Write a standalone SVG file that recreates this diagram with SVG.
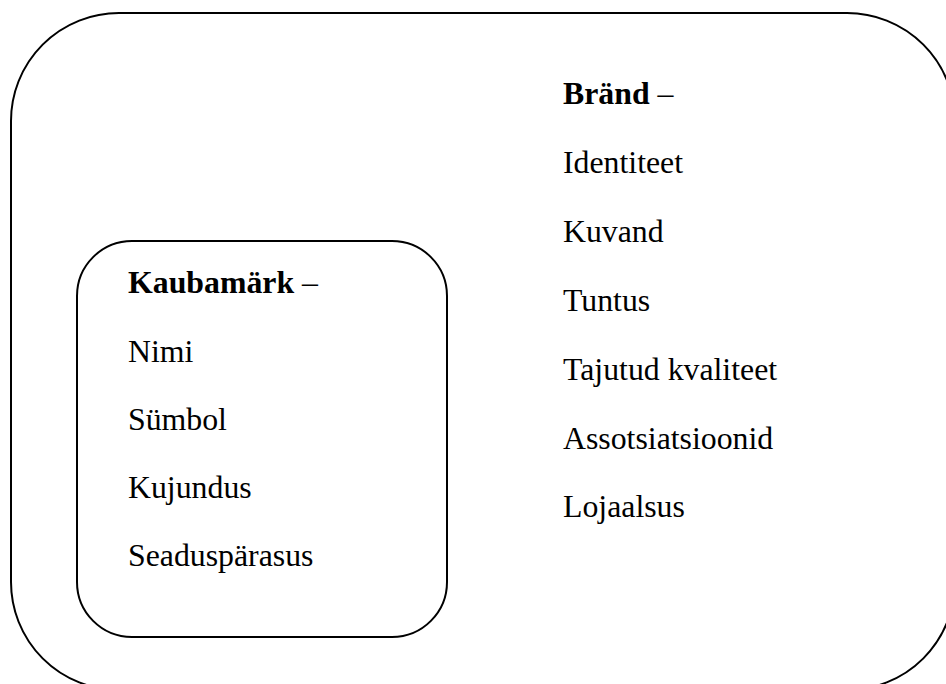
<svg xmlns="http://www.w3.org/2000/svg" width="946" height="684" viewBox="0 0 946 684">
<style>
.box{fill:none;stroke:#000;stroke-width:2}
.t{font-family:"Liberation Serif","Times New Roman",serif;font-size:31.8px;fill:#000}
.b{font-weight:bold}
</style>
<rect width="946" height="684" fill="#fff"/>
<g id="brand">
<rect class="box" x="11" y="13" width="944" height="677" rx="108" ry="108"/>
<text class="t" x="563" y="104"><tspan class="b">Bränd</tspan> –</text>
<text class="t" x="563" y="173">Identiteet</text>
<text class="t" x="563" y="242">Kuvand</text>
<text class="t" x="563" y="311">Tuntus</text>
<text class="t" x="563" y="380">Tajutud kvaliteet</text>
<text class="t" x="563" y="449">Assotsiatsioonid</text>
<text class="t" x="563" y="517">Lojaalsus</text>
</g>
<g id="kaubamark">
<rect class="box" x="77" y="241" width="370" height="396" rx="55" ry="55"/>
<text class="t" x="128" y="293"><tspan class="b">Kaubamärk</tspan> –</text>
<text class="t" x="128" y="362">Nimi</text>
<text class="t" x="128" y="430">Sümbol</text>
<text class="t" x="128" y="498">Kujundus</text>
<text class="t" x="128" y="566">Seaduspärasus</text>
</g>
<g id="connectors"></g>
</svg>
